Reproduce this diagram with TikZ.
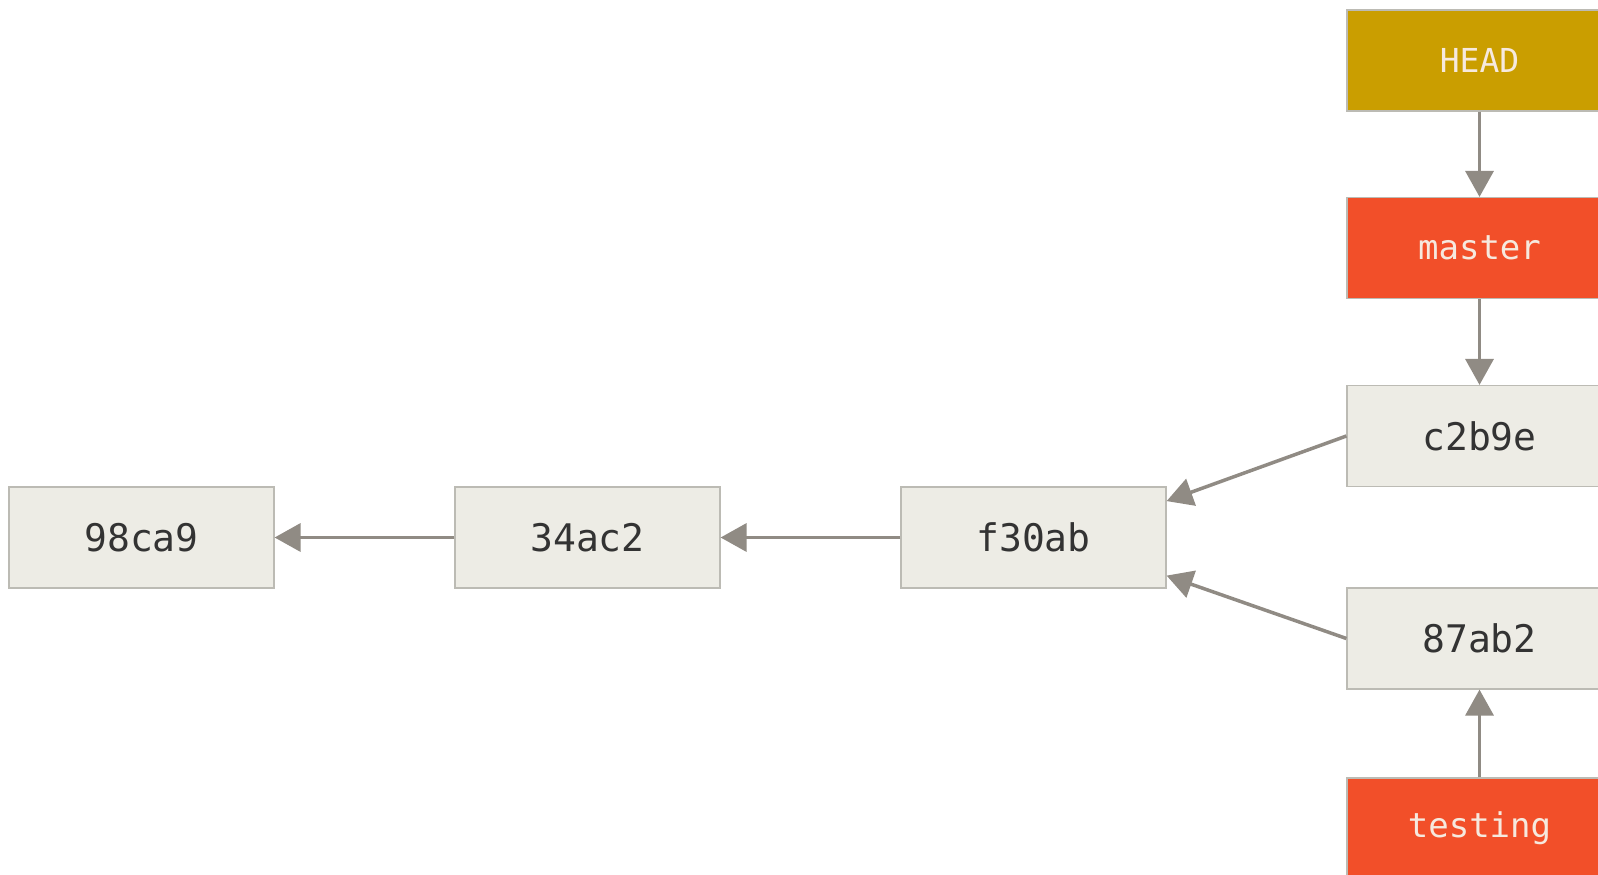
\documentclass[tikz,border=0pt]{standalone}
\usepackage{fontspec}
\usetikzlibrary{arrows.meta}
\newfontfamily\gitmono{DejaVu Sans Mono}
\definecolor{commitfill}{HTML}{EDECE5}
\definecolor{boxborder}{HTML}{BCBBB4}
\definecolor{headfill}{HTML}{CA9E00}
\definecolor{branchfill}{HTML}{F24F29}
\definecolor{arrowcol}{HTML}{908B84}
\definecolor{textcol}{HTML}{333333}
\definecolor{labeltext}{HTML}{F6E9DE}
\tikzset{
  commit/.style={rectangle, draw=boxborder, line width=1.2pt, fill=commitfill,
    minimum width=265pt, minimum height=101pt, inner sep=0pt, text=textcol,
    font=\gitmono\fontsize{38}{42}\selectfont},
  headbox/.style={commit, fill=headfill, text=labeltext,
    font=\gitmono\fontsize{33}{38}\selectfont},
  branchbox/.style={commit, fill=branchfill, text=labeltext,
    font=\gitmono\fontsize{34}{38}\selectfont},
  arr/.style={draw=arrowcol, line width=3.5pt, -{Triangle[length=26pt,width=28pt]}, shorten >=0pt}
}
\begin{document}
\begin{tikzpicture}[x=1pt,y=-1pt]
\useasboundingbox (0,0) rectangle (1598,875);
\clip (0,0) rectangle (1598,875);
\fill[white] (0,0) rectangle (1598,875);
\node[commit] (n98) at (141.5,537.5) {98ca9};
\node[commit] (n34) at (587.5,537.5) {34ac2};
\node[commit] (nf3) at (1033.5,537.5) {f30ab};
\node[commit] (nc2) at (1479.5,436) {c2b9e};
\node[commit] (n87) at (1479.5,638.5) {87ab2};
\node[headbox] (head) at (1479.5,60.5) {HEAD};
\node[branchbox] (master) at (1479.5,248) {master};
\node[branchbox] (testing) at (1479.5,828.5) {testing};
\draw[arr] (n34.west) -- (n98.east);
\draw[arr] (nf3.west) -- (n34.east);
\draw[arr] (nc2.west) -- ([yshift=-14.7pt]nf3.north east);
\draw[arr] (n87.west) -- ([yshift=13pt]nf3.south east);
\draw[arr] (head.south) -- (master.north);
\draw[arr] (master.south) -- (nc2.north);
\draw[arr] (testing.north) -- (n87.south);
\end{tikzpicture}
\end{document}
